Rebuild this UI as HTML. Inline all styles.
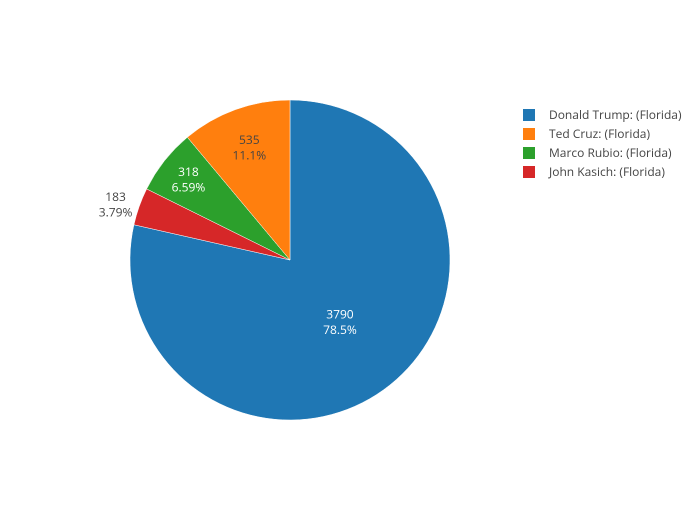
<!DOCTYPE html>
<html><head><meta charset="utf-8">
<style>
body{margin:0;background:#fff;}
svg text{font-family:"Open Sans","Liberation Sans",sans-serif;font-size:12px;}
</style></head>
<body>
<svg id="chart" width="700" height="500" xmlns="http://www.w3.org/2000/svg">
<rect width="700" height="500" fill="#fff"/>
<g id="slices"></g>
<g id="labels"></g>
<g id="legend"></g>
</svg>
<script>
const categories = ["Donald Trump: (Florida)", "John Kasich: (Florida)", "Marco Rubio: (Florida)", "Ted Cruz: (Florida)"];
const values = [3790, 183, 318, 535];
const legendOrder = ["Donald Trump: (Florida)", "Ted Cruz: (Florida)", "Marco Rubio: (Florida)", "John Kasich: (Florida)"];
const colorMap = {"Donald Trump: (Florida)":"#1f77b4","Ted Cruz: (Florida)":"#ff7f0e","Marco Rubio: (Florida)":"#2ca02c","John Kasich: (Florida)":"#d62728"};

const NS="http://www.w3.org/2000/svg";
const cx=290, cy=260, R=160;
const total=values.reduce((a,b)=>a+b,0);
function pt(angDeg,r){const a=angDeg*Math.PI/180;return [cx+r*Math.sin(a),cy-r*Math.cos(a)];}
function fmtPct(p){const v=p*100;return (v>=10?v.toFixed(1):v.toFixed(2))+"%";}
const sg=document.getElementById('slices'), lg=document.getElementById('labels');
let start=0;
values.forEach((v,i)=>{
  const frac=v/total, sweep=frac*360, end=start+sweep;
  const [x1,y1]=pt(start,R),[x2,y2]=pt(end,R);
  const p=document.createElementNS(NS,'path');
  p.setAttribute('d',`M${cx},${cy}L${x1},${y1}A${R},${R} 0 ${sweep>180?1:0} 1 ${x2},${y2}Z`);
  p.setAttribute('fill',colorMap[categories[i]]);
  p.setAttribute('stroke','#fff');p.setAttribute('stroke-width','0.5');
  
  
  sg.appendChild(p);
  const mid=start+sweep/2;
  let rr, fill, outside=frac<0.05;
  if(outside){rr=R+23;fill='#444';}
  else if(frac>0.5){rr=R*0.5;fill='#fff';}
  else {rr=R*(0.9-frac*1.4);fill=(categories[i].startsWith('Ted')?'#444':'#fff');}
  let [lx,ly]=pt(mid,rr);
  if(outside){lx-=2;ly+=6;}
  const t=document.createElementNS(NS,'text');
  t.setAttribute('x',lx);t.setAttribute('y',ly-4);t.setAttribute('text-anchor','middle');t.setAttribute('fill',fill);
  
  
  const s1=document.createElementNS(NS,'tspan');s1.setAttribute('x',lx);s1.textContent=v;
  const s2=document.createElementNS(NS,'tspan');s2.setAttribute('x',lx);s2.setAttribute('dy','15.5');s2.textContent=fmtPct(frac);
  t.appendChild(s1);t.appendChild(s2);lg.appendChild(t);
  start=end;
});
const leg=document.getElementById('legend');
legendOrder.forEach((c,i)=>{
  const y=115+i*19;
  const g=document.createElementNS(NS,'g');
  
  
  const r=document.createElementNS(NS,'rect');
  r.setAttribute('x',523);r.setAttribute('y',y-6);r.setAttribute('width',12);r.setAttribute('height',12);r.setAttribute('fill',colorMap[c]);
  const t=document.createElementNS(NS,'text');
  t.setAttribute('x',549);t.setAttribute('y',y+4);t.setAttribute('fill','#444');t.textContent=c;
  g.appendChild(r);g.appendChild(t);leg.appendChild(g);
});
</script>
</body></html>
